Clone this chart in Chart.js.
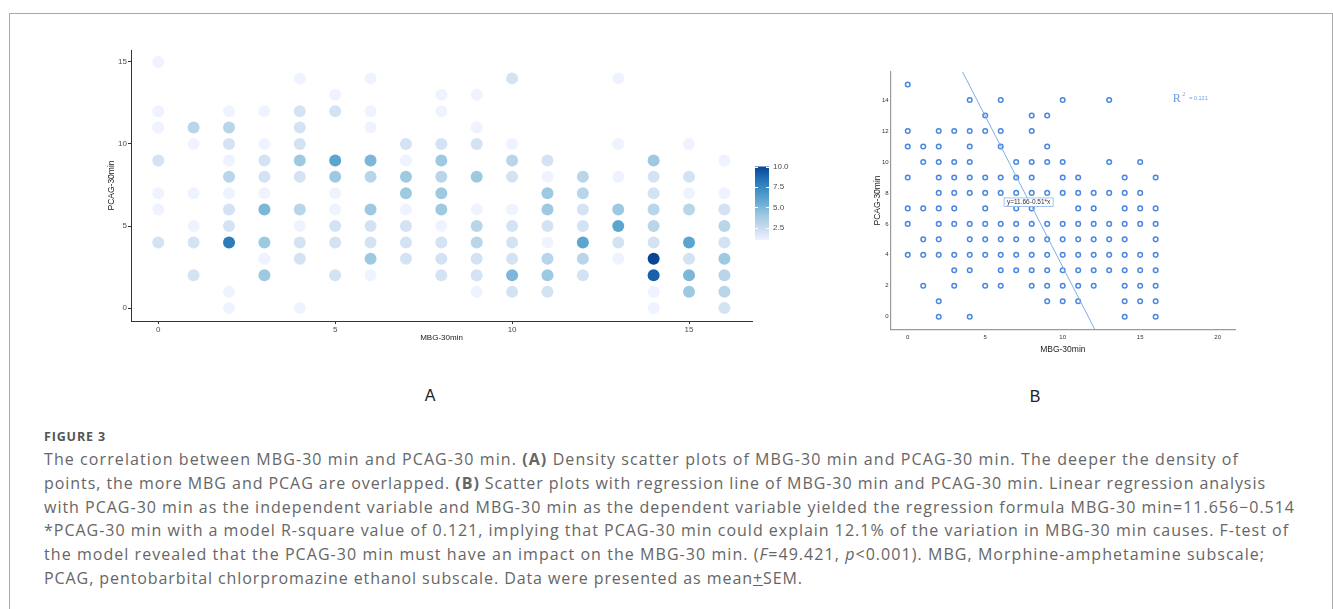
<!DOCTYPE html>
<html>
<head>
<meta charset="utf-8">
<script src="https://cdn.jsdelivr.net/npm/chart.js@4.4.1/dist/chart.umd.min.js"></script>
<style>
body { margin:0; width:1333px; height:609px; background:#fff; overflow:hidden; position:relative; font-family:"Liberation Sans", Arial, sans-serif; }
#frame { position:absolute; left:9px; top:13px; width:1322px; height:640px; border:1px solid #aaa; }
#wrapA { position:absolute; left:0; top:0; }
#wrapB { position:absolute; left:840px; top:0; }
.plabel { position:absolute; font-size:16px; color:#222; transform:translate(-50%,-50%); }
#figno { position:absolute; left:44px; top:428px; font-family:"Open Sans", sans-serif; font-weight:700; font-size:12.5px; letter-spacing:0.85px; color:#555; }
#caption { position:absolute; left:44px; top:448px; font-family:"Open Sans", sans-serif; font-size:16px; line-height:23.8px; color:#666; }
#caption .ln { display:inline-block; white-space:nowrap; }
</style>
</head>
<body>
<div id="frame"></div>
<div id="wrapA"><canvas id="chartA" width="840" height="370"></canvas></div>
<div id="wrapB"><canvas id="chartB" width="493" height="370"></canvas></div>
<div class="plabel" style="left:430px; top:396px;">A</div>
<div class="plabel" style="left:1035px; top:397px;">B</div>
<div id="figno">FIGURE 3</div>
<div id="caption">
<span class="ln">The correlation between MBG-30 min and PCAG-30 min. <b>(A)</b> Density scatter plots of MBG-30 min and PCAG-30 min. The deeper the density of</span><br>
<span class="ln">points, the more MBG and PCAG are overlapped. <b>(B)</b> Scatter plots with regression line of MBG-30 min and PCAG-30 min. Linear regression analysis</span><br>
<span class="ln">with PCAG-30 min as the independent variable and MBG-30 min as the dependent variable yielded the regression formula MBG-30 min=11.656−0.514</span><br>
<span class="ln">*PCAG-30 min with a model R-square value of 0.121, implying that PCAG-30 min could explain 12.1% of the variation in MBG-30 min causes. F-test of</span><br>
<span class="ln">the model revealed that the PCAG-30 min must have an impact on the MBG-30 min. (<i>F</i>=49.421, <i>p</i>&lt;0.001). MBG, Morphine-amphetamine subscale;</span><br>
<span class="ln">PCAG, pentobarbital chlorpromazine ethanol subscale. Data were presented as mean<u>+</u>SEM.</span>
</div>
<script>
// MBG-30min columns, with the PCAG-30min values found in each column and how many subjects sit on each point
const mbgValues = [0,1,2,3,4,5,6,7,8,9,10,11,12,13,14,15,16];
const pcagByMbg = [
    [15,12,11,9,7,6,4],
    [11,10,7,5,4,2],
    [12,11,10,9,8,7,6,5,4,1,0],
    [12,10,9,8,7,6,4,3,2],
    [14,12,11,10,9,8,6,5,4,3,0],
    [13,12,9,8,7,6,5,4,2],
    [14,12,11,9,8,6,5,4,3,2],
    [10,9,8,7,6,5,4,3],
    [13,12,10,9,8,7,6,5,4,3,2],
    [13,11,10,8,6,5,4,3,2,1],
    [14,10,9,8,6,5,4,3,2,1],
    [9,8,7,6,5,4,3,2,1],
    [8,7,6,5,4,3,2],
    [14,10,8,6,5,4,3],
    [9,8,7,6,5,4,3,2,1,0],
    [10,8,7,6,4,3,2,1],
    [9,7,6,5,4,3,2,1,0]
];
const countByMbg = [
    [1,1,1,2,1,1,2],
    [3,1,1,1,2,2],
    [1,3,2,1,3,1,2,2,8,1,1],
    [1,1,2,2,1,5,4,1,4],
    [1,2,2,2,4,2,3,1,2,2,1],
    [1,2,6,4,1,1,2,2,2],
    [1,1,1,5,3,4,2,2,4,1],
    [2,1,4,4,1,2,2,2],
    [1,1,2,4,3,4,4,1,2,2,2],
    [1,1,2,4,1,3,3,2,2,1],
    [2,1,3,2,1,2,2,2,5,2],
    [2,1,4,4,2,1,3,4,2],
    [3,3,2,2,6,3,2],
    [1,1,1,4,6,2,1],
    [4,2,2,3,3,2,10,9,1,1],
    [1,2,1,3,6,2,5,4],
    [1,1,2,3,2,4,3,3,2]
];
const densityBreaks = [2.5, 5.0, 7.5, 10.0];
const densityRange = [1, 10];

// regression line ends (x = MBG, y = PCAG)
const regLine = [{x: 3.53, y: 15.83}, {x: 12.07, y: -0.81}];
const regLabel = 'y=11.66-0.51*x';
const regLabelAt = {x: 7.8, y: 7.4};
const r2Text = '= 0.121';
const r2At = {x: 17.1, y: 13.87};

const blues = [[239,243,255],[198,219,239],[158,202,225],[107,174,214],[66,146,198],[33,113,181],[8,69,148]];
function countColor(n){
    let t = (n - densityRange[0]) / (densityRange[1] - densityRange[0]) * 6;
    t = Math.max(0, Math.min(6, t));
    const i = Math.min(5, Math.floor(t));
    const f = t - i;
    const a = blues[i], b = blues[i+1];
    return 'rgb(' + a.map((v, k) => Math.round(v + (b[k] - v) * f)).join(',') + ')';
}

const points = [];
const pointColors = [];
mbgValues.forEach((m, i) => {
    pcagByMbg[i].forEach((p, j) => {
        points.push({x: m, y: p});
        pointColors.push(countColor(countByMbg[i][j]));
    });
});

Chart.defaults.font.family = '"Liberation Sans", Arial, sans-serif';

const colorBar = {
    id: 'colorBar',
    afterDraw(chart){
        const c = chart.ctx;
        const left = 755, w = 14, yTop = 166.5, yBot = 240;
        const yOf = v => yBot - (v - densityRange[0]) / (densityRange[1] - densityRange[0]) * (yBot - yTop);
        const g = c.createLinearGradient(0, yBot, 0, yTop);
        for(let s = 0; s <= 18; s++){
            const v = densityRange[0] + s * 0.5;
            g.addColorStop(s / 18, countColor(v));
        }
        c.save();
        c.fillStyle = g;
        c.fillRect(left, yTop, w, yBot - yTop);
        c.strokeStyle = '#fff';
        c.lineWidth = 1;
        c.font = '8px "Liberation Sans", Arial, sans-serif';
        c.fillStyle = '#4d4d4d';
        c.textBaseline = 'middle';
        densityBreaks.forEach(v => {
            const y = Math.round(yOf(v)) + 0.5;
            c.beginPath();
            c.moveTo(left, y); c.lineTo(left + 3, y);
            c.moveTo(left + w - 3, y); c.lineTo(left + w, y);
            c.stroke();
            c.fillText(v.toFixed(1), left + w + 4, yOf(v));
        });
        c.restore();
    }
};

new Chart(document.getElementById('chartA'), {
    type: 'scatter',
    data: {
        datasets: [{
            data: points,
            pointRadius: 6,
            pointBorderWidth: 0,
            pointBackgroundColor: pointColors,
            pointBorderColor: pointColors
        }]
    },
    options: {
        responsive: false,
        animation: false,
        events: [],
        devicePixelRatio: 1,
        layout: {padding: {left: 91, right: 88, top: 50, bottom: 19}},
        plugins: {legend: {display: false}, tooltip: {enabled: false}},
        scales: {
            x: {
                type: 'linear', min: -0.77, max: 16.78,
                afterFit(s){ s.height = 30; },
                ticks: {stepSize: 5, includeBounds: false, padding: 1, color: '#4d4d4d', font: {size: 8}},
                grid: {drawOnChartArea: false, drawTicks: true, tickLength: 3, color: '#333'},
                border: {display: true, color: '#333', width: 1},
                title: {display: true, text: 'MBG-30min', color: '#1a1a1a', font: {size: 8}, padding: {top: 0, bottom: 8}}
            },
            y: {
                type: 'linear', min: -0.79, max: 15.73,
                afterFit(s){ s.width = 40; },
                ticks: {stepSize: 5, includeBounds: false, padding: 1, color: '#4d4d4d', font: {size: 8}},
                grid: {drawOnChartArea: false, drawTicks: true, tickLength: 3, color: '#333'},
                border: {display: true, color: '#333', width: 1},
                title: {display: true, text: 'PCAG-30min', color: '#1a1a1a', font: {size: 8.5}, padding: {top: 16, bottom: 0}}
            }
        }
    },
    plugins: [colorBar]
});

const regNotes = {
    id: 'regNotes',
    afterDatasetsDraw(chart){
        const c = chart.ctx;
        const xs = chart.scales.x, ys = chart.scales.y;
        c.save();
        // formula box
        const bx = xs.getPixelForValue(regLabelAt.x), by = ys.getPixelForValue(regLabelAt.y);
        c.font = '6.5px "Liberation Sans", Arial, sans-serif';
        const tw = c.measureText(regLabel).width;
        const bw = Math.max(49, tw + 4), bh = 8.5;
        c.fillStyle = '#fff';
        c.fillRect(bx - bw / 2, by - bh / 2, bw, bh);
        c.strokeStyle = '#8db6ea';
        c.lineWidth = 0.8;
        c.strokeRect(bx - bw / 2, by - bh / 2, bw, bh);
        c.fillStyle = '#333';
        c.textAlign = 'center';
        c.textBaseline = 'middle';
        c.fillText(regLabel, bx, by + 0.5);
        // R squared
        const rx = xs.getPixelForValue(r2At.x), ry = ys.getPixelForValue(r2At.y);
        c.textAlign = 'left';
        c.textBaseline = 'alphabetic';
        c.fillStyle = '#6a9ce4';
        c.font = '12px "Liberation Serif", "Times New Roman", serif';
        c.fillText('R', rx, ry);
        c.font = '6px "Liberation Serif", "Times New Roman", serif';
        c.fillText('2', rx + 9.5, ry - 6);
        c.font = '5.5px "Liberation Sans", Arial, sans-serif';
        c.fillText(r2Text, rx + 16.5, ry - 2.5);
        c.restore();
    }
};

new Chart(document.getElementById('chartB'), {
    type: 'scatter',
    data: {
        datasets: [
            {
                data: regLine,
                showLine: true,
                pointRadius: 0,
                borderColor: '#7eaee9',
                borderWidth: 1
            },
            {
                data: points,
                pointRadius: 2.3,
                pointBorderWidth: 1.5,
                pointBorderColor: '#4a88e0',
                pointBackgroundColor: 'rgba(255,255,255,0)'
            }
        ]
    },
    options: {
        responsive: false,
        animation: false,
        events: [],
        devicePixelRatio: 1,
        layout: {padding: {left: 20.7, right: 98, top: 71.7, bottom: 10.7}},
        plugins: {legend: {display: false}, tooltip: {enabled: false}},
        scales: {
            x: {
                type: 'linear', min: -1.1, max: 21.12,
                afterFit(s){ s.height = 30; },
                ticks: {stepSize: 5, includeBounds: false, padding: 4, color: '#333', font: {size: 6}},
                grid: {display: false, drawTicks: false},
                border: {display: true, color: '#9a9a9a', width: 1.2},
                title: {display: true, text: 'MBG-30min', color: '#222', font: {size: 8.5}, padding: {top: 0, bottom: 4.6}}
            },
            y: {
                type: 'linear', min: -0.81, max: 15.83,
                afterFit(s){ s.width = 30; },
                ticks: {stepSize: 2, includeBounds: false, padding: 2, color: '#333', font: {size: 6}},
                grid: {display: false, drawTicks: false},
                border: {display: true, color: '#9a9a9a', width: 1.2},
                title: {display: true, text: 'PCAG-30min', color: '#222', font: {size: 8.5}, padding: {top: 12, bottom: 0}}
            }
        }
    },
    plugins: [regNotes]
});

// stretch each caption line to the width it has in the figure
const lineEnds = [1239, 1266, 1295, 1289, 1265, 803];
function fitCaption(){
    document.querySelectorAll('#caption .ln').forEach((el, i) => {
        el.style.letterSpacing = '0px';
        const w = el.getBoundingClientRect().width;
        const n = el.textContent.length;
        el.style.letterSpacing = ((lineEnds[i] - 44 - w) / n) + 'px';
    });
}
fitCaption();
document.fonts.ready.then(fitCaption);
</script>
</body>
</html>
